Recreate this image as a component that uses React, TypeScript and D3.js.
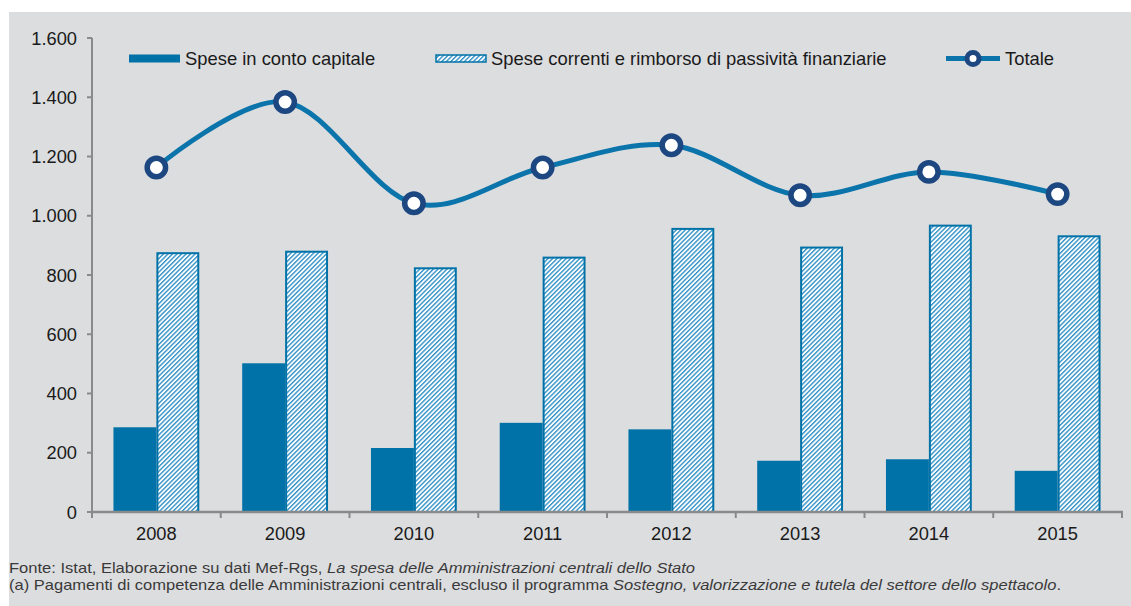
import { useEffect } from 'react'
import * as d3 from 'd3'

const years = ['2008', '2009', '2010', '2011', '2012', '2013', '2014', '2015']
const capitale = [286, 502, 216, 301, 279, 173, 178, 139]
const correnti = [877, 882, 826, 862, 959, 896, 970, 934]
const totale = [1163, 1384, 1042, 1163, 1238, 1069, 1148, 1073]
const yTicks = [0, 200, 400, 600, 800, 1000, 1200, 1400, 1600]

const W = 1131
const H = 606
const BLUE = '#0072a8'
const LINE_BLUE = '#0a74ab'
const NAVY = '#1d4781'
const FONT = "'Liberation Sans', Arial, Helvetica, sans-serif"
const NARROW = "'Liberation Sans Narrow', 'Arial Narrow', 'Liberation Sans', sans-serif"

const itFormat = d3.formatLocale({ decimal: ',', thousands: '.', grouping: [3], currency: ['', ''] }).format(',')

export default function App() {
  useEffect(() => {
    document.body.style.margin = '0'
  }, [])

  const x = d3.scaleBand<string>().domain(years).range([92, 1122]).padding(0)
  const y = d3.scaleLinear().domain([0, 1600]).range([512, 38])
  // two bars in each category, half a bar of air on each side
  const inner = d3.scaleBand<string>().domain(['cap', 'corr']).range([0, x.bandwidth()]).paddingInner(0).paddingOuter(0.5)
  const bw = inner.bandwidth()

  const line = d3.line<number>()
    .x((_, i) => (x(years[i]) as number) + x.bandwidth() / 2)
    .y(d => y(d))
    .curve(d3.curveCardinal.tension(0))

  return (
    <svg width={W} height={H} style={{ display: 'block' }} fontFamily={FONT}>
      <defs>
        <pattern id="hatch" patternUnits="userSpaceOnUse" width="3.2" height="3.2" patternTransform="rotate(45)">
          <rect width="3.2" height="3.2" fill="#ffffff" />
          <rect width="1.4" height="3.2" fill="#3592c6" />
        </pattern>
      </defs>
      <rect x={0} y={0} width={W} height={H} fill="#ffffff" />
      <rect x={9} y={12} width={W - 9} height={H - 12} fill="#dcdddf" />

      {/* bars */}
      {years.map((yr, i) => {
        const x0 = x(yr) as number
        return (
          <g key={yr}>
            <rect x={x0 + (inner('cap') as number)} y={y(capitale[i])} width={bw} height={y(0) - y(capitale[i])} fill={BLUE} />
            <rect x={x0 + (inner('corr') as number) + 1} y={y(correnti[i]) + 1} width={bw - 2} height={y(0) - y(correnti[i]) - 1}
              fill="url(#hatch)" stroke={BLUE} strokeWidth={2} />
          </g>
        )
      })}

      {/* y axis */}
      <line x1={92} x2={92} y1={y(1600)} y2={y(0)} stroke="#8a8a8a" strokeWidth={2} />
      {yTicks.map(t => (
        <g key={t}>
          <line x1={87} x2={92} y1={y(t)} y2={y(t)} stroke="#8a8a8a" strokeWidth={2} />
          <text x={77} y={y(t)} dy="0.36em" textAnchor="end" fontSize={18.3} fill="#1a1a1a">{itFormat(t)}</text>
        </g>
      ))}

      {/* x axis */}
      <line x1={92} x2={1123} y1={y(0)} y2={y(0)} stroke="#8a8a8a" strokeWidth={2.5} />
      {[...years.map(yr => x(yr) as number), 1122].map((px, i) => (
        <line key={i} x1={px} x2={px} y1={y(0)} y2={y(0) + 6} stroke="#8a8a8a" strokeWidth={2} />
      ))}
      {years.map(yr => (
        <text key={yr} x={(x(yr) as number) + x.bandwidth() / 2} y={539.5} textAnchor="middle" fontSize={18.3} fill="#1a1a1a">{yr}</text>
      ))}

      {/* totale */}
      <path d={line(totale) ?? ''} fill="none" stroke={LINE_BLUE} strokeWidth={5} />
      {totale.map((v, i) => (
        <circle key={i} cx={(x(years[i]) as number) + x.bandwidth() / 2} cy={y(v)} r={9.2} fill="#ffffff" stroke={NAVY} strokeWidth={5.5} />
      ))}

      {/* legend */}
      <rect x={129} y={54.5} width={51} height={8} fill={BLUE} />
      <text x={185} y={64.5} fontSize={18.4} fill="#1a1a1a">Spese in conto capitale</text>
      <rect x={436} y={55} width={50} height={7} fill="url(#hatch)" stroke={BLUE} strokeWidth={1.5} />
      <text x={491} y={64.5} fontSize={18.4} fill="#1a1a1a">Spese correnti e rimborso di passività finanziarie</text>
      <line x1={946} x2={1000} y1={58.5} y2={58.5} stroke={LINE_BLUE} strokeWidth={5} />
      <circle cx={973} cy={58.5} r={6} fill="#ffffff" stroke={NAVY} strokeWidth={5} />
      <text x={1005} y={64.5} fontSize={18.4} fill="#1a1a1a">Totale</text>

      {/* footnotes */}
      <text x={9} y={572.5} fontSize={15} fill="#3a3a3a" fontFamily={NARROW} textLength={686} lengthAdjust="spacingAndGlyphs">
        Fonte: Istat, Elaborazione su dati Mef-Rgs, <tspan fontStyle="italic">La spesa delle Amministrazioni centrali dello Stato</tspan>
      </text>
      <text x={9} y={590} fontSize={15} fill="#3a3a3a" fontFamily={NARROW} textLength={1052} lengthAdjust="spacingAndGlyphs">
        (a) Pagamenti di competenza delle Amministrazioni centrali, escluso il programma <tspan fontStyle="italic">Sostegno, valorizzazione e tutela del settore dello spettacolo</tspan>.
      </text>
    </svg>
  )
}
